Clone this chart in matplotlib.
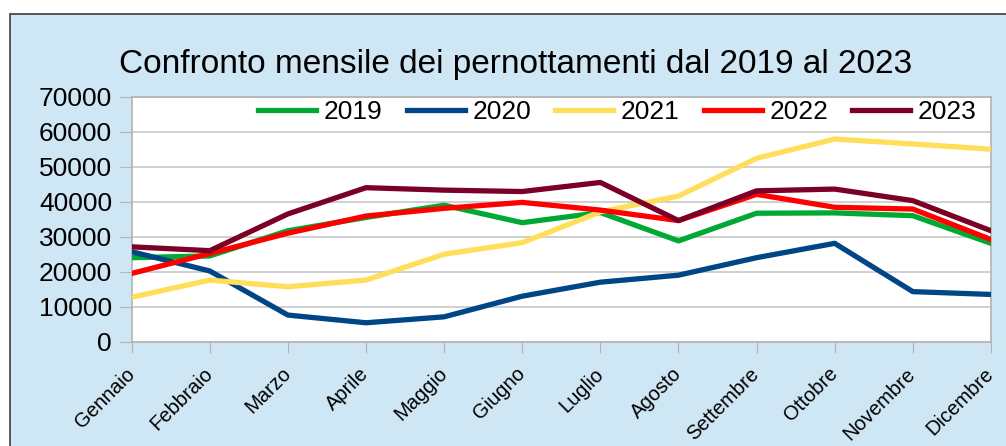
import matplotlib.pyplot as plt
from matplotlib.patches import Rectangle
import numpy as np

plt.rcParams['font.family'] = ['Liberation Sans', 'DejaVu Sans']

mesi = ['Gennaio', 'Febbraio', 'Marzo', 'Aprile', 'Maggio', 'Giugno', 'Luglio',
        'Agosto', 'Settembre', 'Ottobre', 'Novembre', 'Dicembre']

anni = ['2019', '2020', '2021', '2022', '2023']
v2019 = [24000, 24500, 31700, 35500, 39000, 34000, 36900, 28800, 36700, 36800, 36000, 28100]
v2020 = [25700, 20200, 7600, 5400, 7100, 13000, 17000, 19000, 24000, 28100, 14300, 13500]
v2021 = [12700, 17600, 15700, 17600, 25000, 28300, 37100, 41600, 52400, 57900, 56500, 55000]
v2022 = [19500, 25200, 31000, 35900, 38100, 39800, 37600, 34600, 42100, 38400, 37900, 29200]
v2023 = [27100, 26000, 36500, 44000, 43300, 42900, 45500, 34600, 43100, 43600, 40300, 31700]
colori = ['#00a933', '#004586', '#ffde59', '#ff0000', '#7b0025']

fig = plt.figure(figsize=(10.06, 4.46), dpi=100, facecolor='white')

# sfondo del grafico con bordo (visibile a sinistra e in alto)
bg = Rectangle((10 / 1006, -0.1), 1.2, 1.1 - 14 / 446, transform=fig.transFigure,
               facecolor='#cfe6f4', edgecolor='#3c3c3c', linewidth=1.2, zorder=-10)
fig.patches.append(bg)

ax = fig.add_axes([0.1309, 0.2339, 0.985 - 0.1309, 0.7832 - 0.2339])
ax.set_facecolor('white')

x = np.arange(len(mesi))
for serie, anno, col in zip([v2019, v2020, v2021, v2022, v2023], anni, colori):
    ax.plot(x, serie, color=col, linewidth=3.8, label=anno, zorder=3)

ax.set_xlim(0, len(mesi) - 1)
ax.set_ylim(0, 70000)
ax.set_yticks(range(0, 70001, 10000))
ax.set_xticks(x)
ax.set_xticklabels(mesi, rotation=45, ha='right', va='center', rotation_mode='anchor',
                   fontsize=14.5)
ax.tick_params(axis='y', labelsize=19, length=8.6, color='#b3b3b3', pad=5.5)
ax.tick_params(axis='x', length=8, color='#b3b3b3', pad=13)
ax.grid(axis='y', color='#c8c8c8', linewidth=1.2, zorder=1)
for s in ax.spines.values():
    s.set_color('#b3b3b3')
    s.set_linewidth(1.2)

fig.text(0.512, 1 - 72.7 / 446, 'Confronto mensile dei pernottamenti dal 2019 al 2023',
         ha='center', va='baseline', fontsize=24)

fig.legend(loc='center', bbox_to_anchor=(617.5 / 1006, 1 - 112.3 / 446), ncol=5,
           frameon=False, fontsize=19, handlelength=2.2, handletextpad=0.3,
           columnspacing=0.9, borderpad=0)

fig.savefig('out.png', dpi=100)
